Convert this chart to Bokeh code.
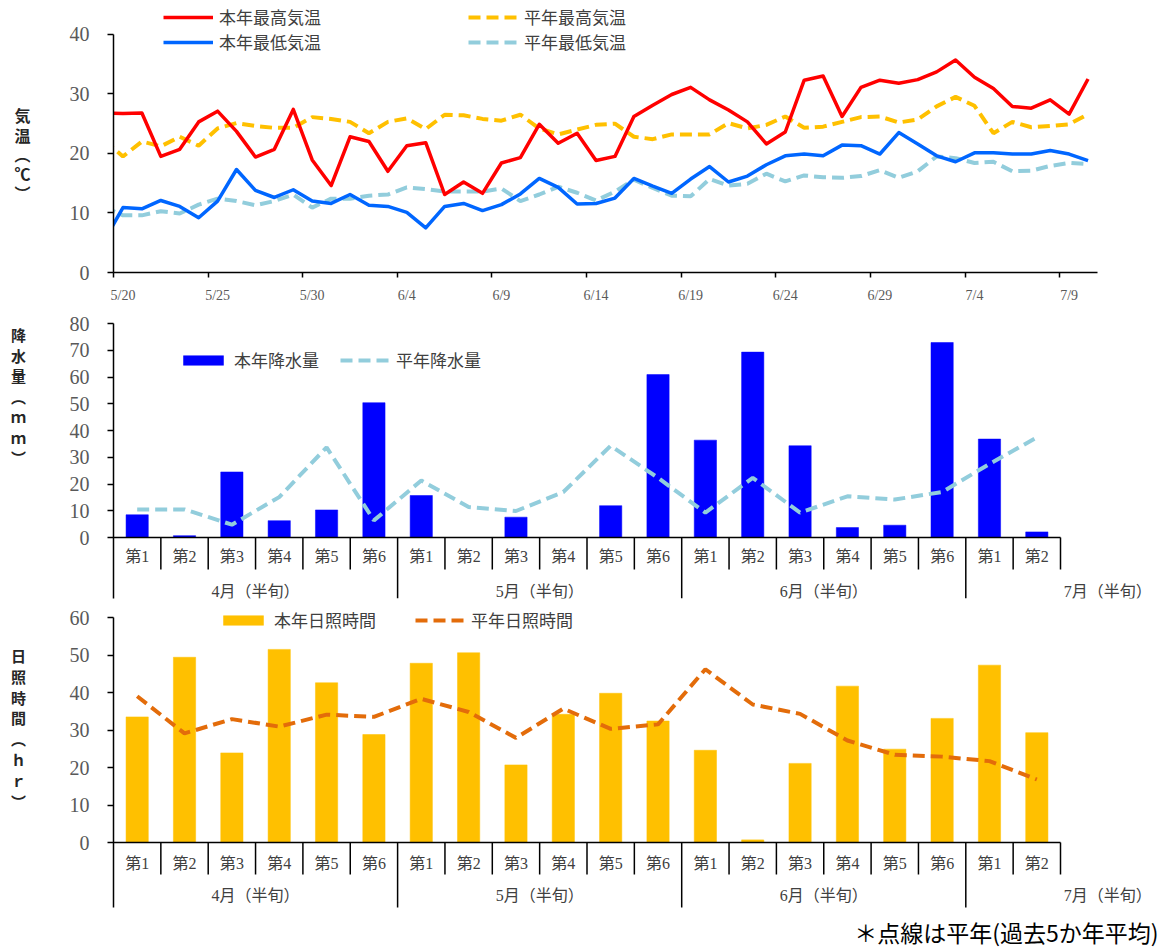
import datetime
from bokeh.plotting import figure
from bokeh.models import Range1d, FixedTicker, Legend, LegendItem
from bokeh.layouts import column, row
from bokeh.embed import file_html
from bokeh.resources import INLINE
from bokeh.core.properties import value

# ---------------- data ----------------
# daily temperatures 5/19 .. 7/10 (5/19 lies left of the axis start and is clipped)
first_day = datetime.date(2020, 5, 19)
tmax_this = [26.8, 26.7, 26.8, 19.5, 20.7, 25.3, 27.1, 23.7, 19.4, 20.7, 27.4, 18.9, 14.6,
             22.8, 22.0, 17.0, 21.3, 21.8, 13.1, 15.2, 13.3, 18.4, 19.3, 24.9, 21.7, 23.4,
             18.8, 19.5, 26.2, 28.1, 29.9, 31.1, 29.0, 27.3, 25.3, 21.6, 23.6, 32.3, 33.0,
             26.2, 31.1, 32.3, 31.8, 32.4, 33.7, 35.7, 32.8, 30.9, 27.9, 27.6, 29.0, 26.6, 32.5]
tmax_norm = [22.3, 19.5, 22.0, 21.2, 22.8, 21.3, 24.2, 25.1, 24.6, 24.3, 24.3, 26.1, 25.8,
             25.3, 23.4, 25.3, 25.9, 24.1, 26.5, 26.4, 25.8, 25.5, 26.5, 24.2, 23.2, 24.0,
             24.8, 25.0, 22.8, 22.4, 23.2, 23.2, 23.2, 25.1, 24.2, 24.8, 26.2, 24.3, 24.5,
             25.3, 26.1, 26.2, 25.2, 25.7, 27.9, 29.5, 28.0, 23.4, 25.3, 24.4, 24.6, 24.9, 26.6]
tmin_this = [5.3, 10.9, 10.7, 12.1, 11.1, 9.2, 12.0, 17.3, 13.8, 12.6, 13.9, 12.0, 11.6,
             13.1, 11.3, 11.1, 10.1, 7.5, 11.1, 11.6, 10.4, 11.4, 13.2, 15.8, 14.3, 11.5,
             11.6, 12.5, 15.8, 14.5, 13.3, 15.7, 17.8, 15.2, 16.2, 18.1, 19.6, 19.9, 19.6,
             21.4, 21.3, 19.9, 23.5, 21.6, 19.6, 18.6, 20.1, 20.1, 19.9, 19.9, 20.5, 19.9, 18.8]
tmin_norm = [11.0, 9.6, 9.6, 10.3, 9.9, 11.4, 12.4, 12.0, 11.3, 12.0, 13.1, 10.9, 12.4,
             12.4, 12.9, 13.1, 14.3, 14.0, 13.6, 13.6, 13.6, 14.1, 12.0, 13.1, 14.4, 13.4,
             12.1, 13.6, 15.6, 14.2, 12.9, 12.8, 15.7, 14.6, 14.9, 16.6, 15.3, 16.3, 16.0,
             15.9, 16.2, 17.2, 15.9, 17.0, 19.5, 19.2, 18.4, 18.6, 17.0, 17.1, 17.9, 18.4, 18.2]

months = ["4月", "5月", "6月", "7月"]
halves_per_month = [6, 6, 6, 2]
half_labels = ["第1", "第2", "第3", "第4", "第5", "第6"]

precip_this = [8.5, 0.7, 24.5, 6.3, 10.3, 50.4,
               15.7, 0.0, 7.6, 0.0, 11.9, 60.9,
               36.4, 69.3, 34.3, 3.7, 4.6, 72.9,
               36.8, 2.1]
precip_norm = [10.5, 10.5, 4.8, 15.1, 33.7, 6.4,
               21.3, 11.4, 9.9, 17.0, 34.3, 22.3,
               9.3, 22.3, 9.3, 15.4, 14.2, 17.0,
               27.5, 37.4]
sun_this = [33.5, 49.4, 23.9, 51.5, 42.6, 28.8,
            47.8, 50.6, 20.7, 34.2, 39.8, 32.4,
            24.6, 0.7, 21.1, 41.7, 24.9, 33.1,
            47.3, 29.3]
sun_norm = [39.0, 29.1, 32.9, 30.9, 34.1, 33.5,
            38.3, 34.8, 27.9, 35.7, 30.3, 31.5,
            46.2, 36.8, 34.3, 27.2, 23.4, 22.9,
            21.7, 16.8]

title_temp = ["気", "温", "︵", "℃", "︶"]
title_prec = ["降", "水", "量", "︵", "ｍ", "ｍ", "︶"]
title_sun = ["日", "照", "時", "間", "︵", "ｈ", "ｒ", "︶"]
footnote = "＊点線は平年(過去5か年平均)"

# ---------------- style ----------------
JP = "Noto Sans CJK JP"
SERIF = "Liberation Serif"
MIX = "Liberation Serif, Noto Sans CJK JP"
TICK_COL = "#595959"
TXT_COL = "#404040"
RED, BLUE, YEL, LBLUE = "#FF0000", "#0066FF", "#FFC000", "#92CDDC"
BAR_BLUE, BAR_YEL, ORANGE = "#0000FF", "#FFC000", "#E36C0A"

PAGE_X0, PAGE_Y0 = 0, 0      # the page body has no margin
TITLE_W = 48                 # left strip with the vertical titles (page x 0..48)
CHART_W = 1166 - TITLE_W     # page x 48..1166
FRAME_L_PAGE = 113
LEFT = FRAME_L_PAGE - PAGE_X0 - TITLE_W
DASH = "12 6"
LEG_SHIFT = 12
CAT_PX = 47.35


def style_y(p, ticks, bounds):
    ax = p.yaxis[0]
    ax.ticker = FixedTicker(ticks=ticks)
    ax.bounds = bounds
    ax.axis_line_color = "black"
    ax.axis_line_width = 1.5
    ax.major_tick_line_color = "black"
    ax.major_tick_line_width = 1.5
    ax.major_tick_out = 6
    ax.major_tick_in = 0
    ax.minor_tick_line_color = None
    ax.major_label_text_font = SERIF
    ax.major_label_text_font_size = "20px"
    ax.major_label_text_color = TICK_COL
    ax.major_label_standoff = 18


def base_fig(width, height, xr, yr, left, right, top, bottom, x_axis=True, y_axis=True):
    p = figure(width=width, height=height, x_range=xr, y_range=yr,
               output_backend="svg", toolbar_location=None,
               min_border_left=left, min_border_right=right,
               min_border_top=top, min_border_bottom=bottom,
               x_axis_location="below" if x_axis else None,
               y_axis_location="left" if y_axis else None)
    p.grid.visible = False
    p.outline_line_color = None
    p.background_fill_color = "white"
    p.border_fill_color = "white"
    return p


def add_item(p, renderer, label, page_x, page_y, frame_bottom_page, glyph_h=20):
    leg = Legend(items=[LegendItem(label=label, renderers=[renderer])],
                 location=(page_x - FRAME_L_PAGE, frame_bottom_page - page_y - LEG_SHIFT),
                 orientation="horizontal",
                 border_line_color=None, background_fill_alpha=0,
                 padding=0, margin=0, spacing=0,
                 glyph_width=50, glyph_height=glyph_h, label_height=20,
                 label_standoff=6, label_text_font=JP,
                 label_text_font_size="17px", label_text_color=TXT_COL)
    p.add_layout(leg, "center")


def title_fig(height, fig_top_page, frame_top_page, frame_bottom_page,
              chars, page_x, first_page_y, pitch, size):
    # same vertical frame as the neighbouring chart (rows align plot frames);
    # y is minus the page y so positions read directly in page pixels
    t = base_fig(TITLE_W, height, Range1d(0, TITLE_W),
                 Range1d(-frame_bottom_page, -frame_top_page),
                 0, 0, frame_top_page - fig_top_page,
                 fig_top_page + height - frame_bottom_page, x_axis=False, y_axis=False)
    xs = [page_x - PAGE_X0] * len(chars)
    ys = [-(first_page_y + i * pitch) for i in range(len(chars))]
    t.text(x=xs, y=ys, text=chars, text_align="center", text_baseline="middle",
           text_font=value(JP), text_font_size=size, text_font_style="bold",
           text_color="#262626")
    return t


# ================= temperature =================
n_days_axis = 52
F1_TOP_PAGE, F1_H = 0, 305
F1_ZERO, F1_40 = 273, 34
ppu1 = (F1_ZERO - F1_40) / 40
p1 = base_fig(CHART_W, F1_H, Range1d(0, n_days_axis),
              Range1d(0, (F1_ZERO - F1_TOP_PAGE) / ppu1),
              left=LEFT, right=1166 - 1097, top=0, bottom=F1_TOP_PAGE + F1_H - F1_ZERO)
xd = [i - 0.5 for i in range(len(tmax_this))]
r_tmaxn = p1.line(xd, tmax_norm, line_color=YEL, line_width=4, line_dash=DASH)
r_tminn = p1.line(xd, tmin_norm, line_color=LBLUE, line_width=4, line_dash=DASH)
r_tmin = p1.line(xd, tmin_this, line_color=BLUE, line_width=3.5, line_join="round")
r_tmax = p1.line(xd, tmax_this, line_color=RED, line_width=3.5, line_join="round")

tick_days = list(range(0, 51, 5))
tick_lab = {}
for d in tick_days:
    dt = first_day + datetime.timedelta(days=d + 1)
    tick_lab[d + 0.5] = f"{dt.month}/{dt.day}"
xa = p1.xaxis[0]
xa.ticker = FixedTicker(ticks=[d + 0.5 for d in tick_days], minor_ticks=tick_days)
xa.major_label_overrides = tick_lab
xa.major_tick_line_color = None
xa.minor_tick_line_color = "black"
xa.minor_tick_line_width = 1.5
xa.minor_tick_out = 5
xa.minor_tick_in = 0
xa.axis_line_color = "black"
xa.axis_line_width = 1.5
xa.major_label_text_font = SERIF
xa.major_label_text_font_size = "14px"
xa.major_label_text_color = TICK_COL
xa.major_label_standoff = 9
style_y(p1, [0, 10, 20, 30, 40], (0, 40))

add_item(p1, r_tmax, "本年最高気温", 163, 18, F1_ZERO)
add_item(p1, r_tmaxn, "平年最高気温", 468, 18, F1_ZERO)
add_item(p1, r_tmin, "本年最低気温", 163, 43, F1_ZERO)
add_item(p1, r_tminn, "平年最低気温", 468, 43, F1_ZERO)
t1 = title_fig(F1_H, F1_TOP_PAGE, F1_TOP_PAGE, F1_ZERO,
               title_temp, 22, 115, 19.5, "16px")


# ================= helper for half-month charts =================
def half_chart(fig_top_page, height, zero_page, ymax, ymax_page, frame_top_page,
               frame_bottom_page, axis_bottom_page, ytick_step,
               bars, norm, bar_col, line_col, row1_px, row2_px, short_px):
    ppu = (zero_page - ymax_page) / ymax
    y0 = -(frame_bottom_page - zero_page) / ppu
    y1 = (zero_page - frame_top_page) / ppu
    y_axis_min = -(axis_bottom_page - zero_page) / ppu
    frame_w = CHART_W - LEFT
    n_cat = sum(halves_per_month)
    p = base_fig(CHART_W, height, Range1d(0, frame_w / CAT_PX), Range1d(y0, y1),
                 left=LEFT, right=0, top=frame_top_page - fig_top_page,
                 bottom=fig_top_page + height - frame_bottom_page, x_axis=False)
    style_y(p, list(range(0, ymax + 1, ytick_step)), (y_axis_min, ymax))

    xs = [i + 0.5 for i in range(n_cat)]
    rb = p.vbar(x=xs, top=bars, width=0.47, fill_color=bar_col, line_color=bar_col,
                line_width=0.5)
    rl = p.line(xs, norm, line_color=line_col, line_width=4, line_dash=DASH)

    # category axis line and separators
    p.segment(x0=[0], y0=[0], x1=[n_cat], y1=[0], line_color="black", line_width=1.5)
    group_edges = []
    s = 0
    for n in halves_per_month:
        s += n
        group_edges.append(s)
    bx, by = [], []
    for b in range(1, n_cat + 1):
        bx.append(b)
        by.append(y_axis_min if b in group_edges[:-1] else -short_px / ppu)
    p.segment(x0=bx, y0=[0] * len(bx), x1=bx, y1=by, line_color="black", line_width=1.5)

    # labels
    lab1 = []
    for n in halves_per_month:
        lab1 += half_labels[:n]
    p.text(x=xs, y=[-row1_px / ppu] * n_cat, text=lab1, text_align="center",
           text_baseline="middle", text_font=value(MIX), text_font_size="16px",
           text_color=TXT_COL)
    gx, gl = [], []
    s = 0
    for m, n in zip(months, halves_per_month):
        gx.append(s + 3)
        gl.append(f"{m}（半旬）")
        s += n
    p.text(x=gx, y=[-row2_px / ppu] * len(gx), text=gl, text_align="center",
           text_baseline="middle", text_font=value(MIX), text_font_size="16px",
           text_color=TXT_COL)
    return p, rb, rl, ppu


# ================= precipitation =================
F2_TOP_PAGE, F2_H = 305, 300
p2, rb2, rl2, ppu2 = half_chart(F2_TOP_PAGE, F2_H, zero_page=537, ymax=80, ymax_page=323,
                                frame_top_page=323, frame_bottom_page=598,
                                axis_bottom_page=598, ytick_step=10,
                                bars=precip_this, norm=precip_norm, bar_col=BAR_BLUE,
                                line_col=LBLUE, row1_px=19, row2_px=54, short_px=32)
add_item(p2, rb2, "本年降水量", 178, 360, 598, glyph_h=12)
add_item(p2, rl2, "平年降水量", 340, 360, 598)
t2 = title_fig(F2_H, F2_TOP_PAGE, 323, 598, title_prec, 18, 334, 20.5, "15px")

# ================= sunshine =================
F3_TOP_PAGE, F3_H = 605, 343
p3, rb3, rl3, ppu3 = half_chart(F3_TOP_PAGE, F3_H, zero_page=842, ymax=60, ymax_page=617,
                                frame_top_page=605, frame_bottom_page=948,
                                axis_bottom_page=907, ytick_step=10,
                                bars=sun_this, norm=sun_norm, bar_col=BAR_YEL,
                                line_col=ORANGE, row1_px=21, row2_px=53, short_px=32)
add_item(p3, rb3, "本年日照時間", 218, 620, 948, glyph_h=12)
add_item(p3, rl3, "平年日照時間", 415, 620, 948)
p3.text(x=[(1158 - FRAME_L_PAGE) / CAT_PX], y=[(842 - 931) / ppu3], text=[footnote],
        text_align="right", text_baseline="middle", text_font=value(JP),
        text_font_size="23px", text_color="black")
t3 = title_fig(F3_H, F3_TOP_PAGE, 605, 948, title_sun, 18, 655, 20.8, "15px")

layout = column(row(t1, p1, spacing=0), row(t2, p2, spacing=0),
                row(t3, p3, spacing=0), spacing=0)
open("out.html", "w").write(file_html(layout, INLINE))
